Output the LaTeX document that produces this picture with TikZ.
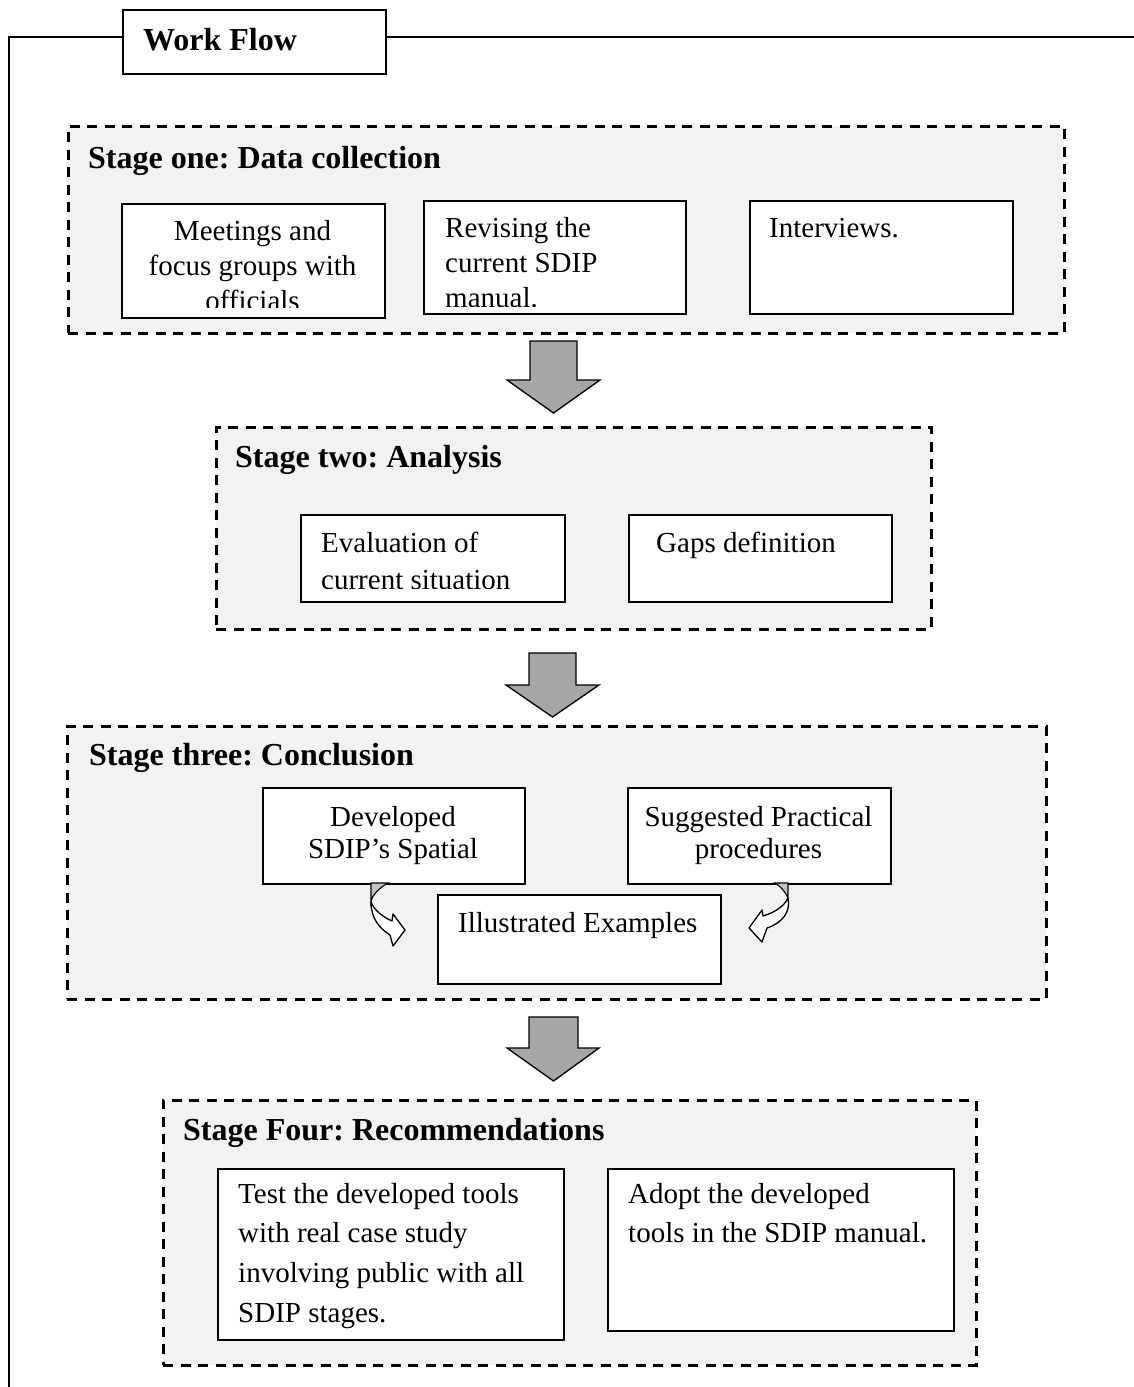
\documentclass[tikz,border=0pt]{standalone}
\usepackage{fontspec}
\setmainfont{Liberation Serif}
\definecolor{stagegray}{HTML}{F2F2F2}
\definecolor{arrowgray}{HTML}{A6A6A6}
\definecolor{curlgray}{HTML}{C4C4C4}
\frenchspacing
\begin{document}
\begin{tikzpicture}[x=1pt,y=-1pt,
  stage/.style={draw=black, line width=2.6pt, dash pattern=on 10pt off 7.5pt, fill=stagegray, anchor=north west, inner sep=0pt},
  itembox/.style={draw=black, line width=1.6pt, fill=white, anchor=north west, inner sep=0pt},
  title/.style={anchor=base west, inner sep=0pt, font=\fontsize{32}{38}\selectfont\bfseries},
  txt/.style={inner sep=0pt, font=\fontsize{29}{35}\selectfont},
  txtwide/.style={inner sep=0pt, font=\fontsize{29}{39.7}\selectfont},
  barrow/.style={draw=black, line width=1.3pt, fill=arrowgray, line join=miter},
  curl/.style={draw=black, line width=1.3pt, fill=white, line join=round},
  curlback/.style={draw=black, line width=1.1pt, fill=curlgray},
  frameline/.style={draw=black, line width=2pt}]
\useasboundingbox (0,0) rectangle (1134,1387);

% outer frame and Work Flow label
\node[itembox, minimum width=263pt, minimum height=64pt] (wf) at (122,9) {};
\node[title] (wft) at (143,50) {Work Flow};
\coordinate (frameend) at (9,1387);
\coordinate (frameright) at (1134,37);
\draw[frameline] (wf.west |- 0,37) -- (9,37) -- (frameend);
\draw[frameline] (wf.east |- 0,37) -- (frameright);

% Stage one
\node[stage, minimum width=996pt, minimum height=207pt] (s1) at (67,125) {};
\node[title] (s1t) at (88,168) {Stage one: Data collection};
\node[itembox, minimum width=263pt, minimum height=114pt] (a) at (121,203) {};
\node[itembox, minimum width=262pt, minimum height=113pt] (b) at (423,200) {};
\node[itembox, minimum width=263pt, minimum height=113pt] (c) at (749,200) {};
\begin{scope}
\clip (122,204) rectangle (383,307);
\node[txt, anchor=base] (at) at (252.5,240) {\parbox[t]{250pt}{\centering Meetings and\\focus groups with\\officials}};
\end{scope}
\begin{scope}
\clip (424,201) rectangle (684,306);
\node[txt, anchor=base west] (bt) at (445,237) {\parbox[t]{230pt}{\raggedright Revising the\\current SDIP\\manual.}};
\end{scope}
\node[txt, anchor=base west] (ct) at (769,237) {Interviews.};

% arrow 1
\draw[barrow] (530,341) -- (577,341) -- (577,380) -- (600,380) -- (553.5,413) -- (507,380) -- (530,380) -- cycle;

% Stage two
\node[stage, minimum width=715pt, minimum height=202pt] (s2) at (215,426) {};
\node[title] (s2t) at (235,467) {Stage two: Analysis};
\node[itembox, minimum width=264pt, minimum height=87pt] (d) at (300,514) {};
\node[itembox, minimum width=263pt, minimum height=87pt] (e) at (628,514) {};
\begin{scope}
\clip (301,515) rectangle (563,588);
\node[txt, anchor=base west] (dt) at (321,552) {\parbox[t]{235pt}{\raggedright\baselineskip=37pt Evaluation of\\current situation}};
\end{scope}
\node[txt, anchor=base west] (et) at (656,552) {Gaps definition};

% arrow 2
\draw[barrow] (529,653) -- (576,653) -- (576,685) -- (599,685) -- (552.5,717) -- (506,685) -- (529,685) -- cycle;

% Stage three
\node[stage, minimum width=979pt, minimum height=273pt] (s3) at (66,725) {};
\node[title] (s3t) at (89,765) {Stage three: Conclusion};
\node[itembox, minimum width=262pt, minimum height=96pt] (f) at (262,787) {};
\node[itembox, minimum width=263pt, minimum height=96pt] (g) at (627,787) {};
\node[itembox, minimum width=283pt, minimum height=89pt] (h) at (437,894) {};
\node[txt, anchor=base] (ft) at (393,826) {\parbox[t]{250pt}{\centering\baselineskip=32.5pt Developed\\SDIP’s Spatial}};
\node[txt, anchor=base] (gt) at (758.5,826) {\parbox[t]{250pt}{\centering\baselineskip=32.5pt Suggested Practical\\procedures}};
\node[txt, anchor=base west] (ht) at (458,932) {Illustrated Examples};

% curved arrows
\draw[curlback] (371,883) -- (388,883) .. controls (379,888) and (372,895) .. (371,902) -- cycle;
\draw[curl] (371,902) .. controls (371,918) and (379,928) .. (390,935) -- (393,946) -- (405,930) -- (393,914) -- (392,921) .. controls (383,917) and (374,910) .. (371,902) -- cycle;
\draw[curlback] (775,883) -- (788,883) -- (788,898) .. controls (785,891) and (780,886) .. (775,883) -- cycle;
\draw[curl] (788,898) .. controls (791,912) and (782,923) .. (767,928) -- (762,942) -- (749,928) -- (762,910) -- (763,916) .. controls (773,913) and (784,907) .. (788,898) -- cycle;

% arrow 3
\draw[barrow] (529,1017) -- (578,1017) -- (578,1048) -- (599,1048) -- (553.5,1081) -- (507,1048) -- (529,1048) -- cycle;

% Stage four
\node[stage, minimum width=813pt, minimum height=265pt] (s4) at (162,1099) {};
\node[title] (s4t) at (183,1140) {Stage Four: Recommendations};
\node[itembox, minimum width=346pt, minimum height=171pt] (i) at (217,1168) {};
\node[itembox, minimum width=346pt, minimum height=162pt] (j) at (607,1168) {};
\node[txtwide, anchor=base west] (it) at (238,1203) {\parbox[t]{320pt}{\raggedright Test the developed tools\\with real case study\\involving public with all\\SDIP stages.}};
\node[txtwide, anchor=base west] (jt) at (628,1203) {\parbox[t]{320pt}{\raggedright Adopt the developed\\tools in the SDIP manual.}};
\end{tikzpicture}
\end{document}
